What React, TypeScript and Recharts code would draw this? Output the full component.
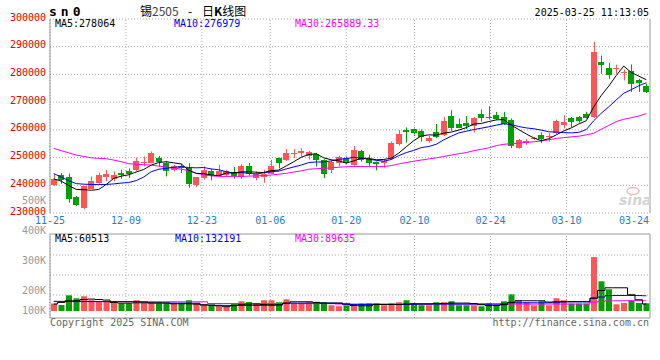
import React from "react";
import {
  ComposedChart,
  Bar,
  Line,
  XAxis,
  YAxis,
  CartesianGrid,
  ReferenceLine,
  Cell,
} from "recharts";

// trading days shown (11-25 .. 03-25)
const DATES = [
  "11-25", "11-26", "11-27", "11-28", "11-29",
  "12-02", "12-03", "12-04", "12-05", "12-06",
  "12-09", "12-10", "12-11", "12-12", "12-13",
  "12-16", "12-17", "12-18", "12-19", "12-20",
  "12-23", "12-24", "12-25", "12-26", "12-27",
  "12-30", "12-31", "01-02", "01-03",
  "01-06", "01-07", "01-08", "01-09", "01-10",
  "01-13", "01-14", "01-15", "01-16", "01-17",
  "01-20", "01-21", "01-22", "01-23", "01-24",
  "01-27", "02-05", "02-06", "02-07",
  "02-10", "02-11", "02-12", "02-13", "02-14",
  "02-17", "02-18", "02-19", "02-20", "02-21",
  "02-24", "02-25", "02-26", "02-27", "02-28",
  "03-03", "03-04", "03-05", "03-06", "03-07",
  "03-10", "03-11", "03-12", "03-13", "03-14",
  "03-17", "03-18", "03-19", "03-20", "03-21",
  "03-24", "03-25",
];

const OPEN = [
  240000, 243600, 242900, 235700, 231700, 238800, 240900, 242900, 242400, 244400,
  245000, 245400, 248000, 248200, 250000, 248200, 245400, 246800, 246400, 240000,
  242600, 245300, 243500, 243800, 244800, 243000, 247100, 242600, 243000, 244200,
  249800, 249000, 251500, 251600, 250700, 251200, 249200, 245400, 248000, 249800,
  247200, 252200, 249500, 248400, 248000, 249500, 254800, 259900, 260300, 259600,
  256000, 259300, 258200, 265000, 262100, 262600, 261400, 265700, 264700, 265300,
  264500, 263500, 253400, 255200, 256600, 258200, 257700, 258800, 261700, 264100,
  264500, 265700, 264500, 284400, 282200, 281800, 280800, 281400, 278100, 275800,
];
const HIGH = [
  244200, 244400, 244200, 236100, 239800, 243200, 244600, 245600, 245000, 245600,
  246100, 250000, 250400, 252200, 250600, 248800, 247400, 247700, 248000, 243000,
  246800, 245900, 247400, 245600, 246600, 247700, 248000, 245000, 245600, 249200,
  250000, 253100, 253100, 253400, 252400, 251700, 249400, 249000, 250700, 250400,
  254200, 252800, 251000, 248600, 249200, 255800, 259900, 260900, 260900, 260200,
  257800, 262100, 264700, 267100, 264100, 265000, 264600, 267400, 268500, 266500,
  266500, 264100, 256700, 256700, 257500, 259100, 258800, 263700, 265300, 264700,
  265000, 266500, 291800, 286800, 284200, 283500, 281800, 283600, 278400, 276700,
];
const LOW = [
  239800, 240500, 233700, 232500, 231300, 238700, 240600, 241400, 241400, 242400,
  242600, 245000, 246800, 248000, 246800, 243200, 245000, 244400, 239100, 239400,
  242000, 241800, 243200, 243200, 242400, 242400, 243500, 241800, 240900, 244000,
  246100, 248800, 249800, 250400, 249300, 246800, 242600, 244400, 246800, 247700,
  247100, 248500, 246600, 245400, 246400, 249300, 254300, 255400, 257800, 255800,
  255400, 257000, 257800, 259700, 260700, 260300, 259000, 262900, 263800, 263500,
  261700, 253400, 253200, 254600, 256400, 255200, 255800, 258600, 260500, 260900,
  262600, 264100, 264300, 280200, 278400, 280200, 277800, 273700, 273700, 273300,
];
const CLOSE = [
  242400, 242000, 235200, 232800, 239600, 241400, 243600, 244100, 243600, 243600,
  244200, 248600, 248400, 251600, 248400, 245300, 246800, 246200, 240500, 242900,
  245600, 243600, 245000, 245000, 243200, 247100, 244200, 244200, 244200, 246800,
  248000, 251600, 251800, 252200, 252000, 249200, 244200, 248400, 250200, 248200,
  252800, 249200, 248000, 247700, 248800, 255200, 258400, 259300, 258800, 257500,
  257200, 257500, 263200, 260800, 260800, 261500, 264100, 264100, 264300, 263900,
  262100, 254000, 256400, 256000, 257200, 256700, 257900, 263300, 262900, 262900,
  263300, 264300, 288000, 283500, 279900, 282400, 281000, 276700, 277000, 273700,
];

const MA5 = [
  242300, 241500, 239900, 238500, 238400, 238200, 238500, 240300, 242500, 243300,
  243800, 244800, 245700, 247300, 248200, 248500, 248100, 247700, 245400, 244300,
  244200, 243700, 243500, 244400, 244500, 244800, 244900, 244700, 244600, 245300,
  245500, 247000, 248500, 250100, 251100, 251400, 249900, 249200, 248800, 248000,
  248800, 249800, 249700, 249200, 249300, 249800, 251600, 253900, 256100, 257800,
  258200, 258100, 258800, 259200, 259900, 260800, 262100, 262300, 263000, 263600,
  263700, 261700, 260100, 258500, 257100, 256100, 256800, 258200, 259600, 260700,
  262100, 263300, 268300, 272400, 275800, 279600, 283000, 280700, 279400, 278100,
];
const MA10 = [
  244200, 243000, 241600, 240600, 240400, 240300, 240300, 240300, 240500, 240800,
  241000, 241700, 243000, 244900, 245800, 246100, 246500, 246700, 246400, 246300,
  246400, 245900, 245600, 244900, 244400, 244600, 244300, 244100, 244500, 244900,
  245100, 245900, 246600, 247300, 248200, 248400, 248400, 248800, 249400, 249600,
  250100, 249800, 249400, 249000, 248700, 249300, 250700, 251800, 252600, 253600,
  254000, 254800, 256400, 257700, 258900, 259500, 260100, 260600, 261100, 261700,
  262200, 261900, 261200, 260700, 260400, 259900, 259300, 259200, 259000, 258900,
  259100, 260100, 263300, 266000, 268300, 270800, 273200, 274500, 275900, 277000,
];
const MA30 = [
  253300, 252500, 251700, 250900, 250400, 249900, 249700, 249600, 249100, 248500,
  247800, 247600, 247400, 247300, 246900, 246600, 246200, 245800, 245300, 244300,
  243800, 243400, 243200, 243200, 243200, 243200, 243300, 243400, 243500, 243700,
  244000, 244300, 244800, 245200, 245800, 246000, 246100, 246300, 246500, 246700,
  246800, 246800, 246800, 246800, 246800, 247100, 247700, 248200, 248700, 249100,
  249500, 249900, 250400, 250900, 251400, 251800, 252500, 253000, 253500, 254300,
  254800, 255000, 255200, 255500, 255700, 256000, 256400, 256900, 257200, 257500,
  257700, 258200, 258800, 260200, 261600, 263000, 263800, 264400, 265000, 265900,
];

const VOLUME = [
  64800, 52700, 136400, 110500, 127800, 93300, 84600, 82000, 82000, 67400,
  67400, 93300, 70000, 70000, 67400, 67400, 64800, 64800, 93300, 70000,
  52700, 50100, 41500, 35400, 64800, 84600, 78600, 70000, 93300, 93300,
  76000, 101900, 70000, 70000, 76000, 76000, 76000, 50000, 41500, 50100,
  50100, 64800, 67400, 67400, 50100, 67400, 76000, 93300, 67400, 50100,
  50100, 76000, 76000, 84600, 50100, 50100, 50100, 41500, 67400, 50100,
  84600, 145100, 93300, 76000, 50100, 84600, 50100, 110500, 93300, 64800,
  64800, 64800, 467200, 257400, 188300, 58700, 70000, 87200, 70000, 67400,
];
const VOL_MA5 = [
  60500, 75000, 89000, 89000, 100000, 103600, 100000, 95000, 75000, 69100,
  69100, 71700, 71700, 71700, 71700, 70000, 63000, 63000, 63000, 60000,
  54400, 52000, 45000, 38000, 45800, 55000, 60500, 60500, 57000, 54400,
  54400, 70000, 80300, 80300, 80300, 75000, 69100, 69100, 69100, 62000,
  48000, 45800, 45800, 57000, 57000, 57000, 57000, 60000, 62000, 62000,
  62000, 64000, 66000, 69100, 69100, 69100, 65000, 55000, 48400, 48400,
  55000, 75000, 89000, 89000, 89000, 89000, 77700, 80300, 80300, 80300,
  80300, 80300, 112300, 177900, 201200, 201200, 201200, 140800, 97600, 60500,
];
const VOL_MA10 = [
  84000, 83500, 83000, 83000, 82800, 82800, 82500, 82500, 82800, 83000,
  83000, 82800, 80000, 69500, 69000, 69000, 69000, 68800, 68800, 68000,
  52000, 50500, 50000, 49000, 48500, 48500, 48500, 49000, 49000, 49500,
  52000, 66000, 69000, 69000, 69000, 69000, 69000, 69000, 68000, 58000,
  57000, 57000, 57000, 57000, 57000, 57000, 57000, 58000, 60000, 60500,
  60500, 61000, 60500, 60500, 60000, 60500, 60500, 60500, 60000, 60500,
  62000, 71000, 71700, 71700, 71700, 71700, 71700, 72000, 80000, 80300,
  80300, 80300, 110000, 121000, 134000, 134700, 134700, 134500, 134000, 132200,
];
const VOL_MA30 = [
  81500, 81500, 81300, 81300, 81200, 81200, 81000, 81000, 81000, 81000,
  80800, 80800, 80800, 80500, 80500, 80500, 80300, 80300, 80300, 80300,
  80000, 65500, 65300, 65000, 65000, 65000, 64800, 64800, 64800, 64800,
  64500, 64500, 64500, 64500, 64300, 64300, 64300, 64000, 60500, 60500,
  60500, 60500, 60500, 60500, 60500, 60500, 60500, 60500, 60500, 60500,
  60300, 60300, 60300, 60300, 60300, 60300, 60300, 60300, 60300, 60300,
  60500, 60500, 60500, 60500, 60500, 60500, 60500, 60500, 60500, 60500,
  60500, 60500, 76000, 84000, 88000, 89000, 89500, 90000, 89800, 89600,
];

const PRICE_TICKS = [230000, 240000, 250000, 260000, 270000, 280000, 290000, 300000];
const DATE_TICKS = ["11-25", "12-09", "12-23", "01-06", "01-20", "02-10", "02-24", "03-10"];
const LAST_DATE_TICK = "03-24";

// volume panel: axis labels sit where Sina prints them
const VOL_DOMAIN = [-60000, 995000];
const VOL_TICKS = [6600, 176100, 435500, 695000, 960400];
const VOL_TICK_LABELS = ["100K", "200K", "300K", "400K", "500K"];
const VOL_GRID = [138900, 311900, 484800];
const VOL_FRAME_TOP = 666400;

const PRICE_LEGEND = [
  { text: "MA5:278064", color: "#000000", x: 55 },
  { text: "MA10:276979", color: "#0000ee", x: 174 },
  { text: "MA30:265889.33", color: "#ff00ff", x: 295 },
];
const VOL_LEGEND = [
  { text: "MA5:60513", color: "#000000", x: 55 },
  { text: "MA10:132191", color: "#0000ee", x: 175 },
  { text: "MA30:89635", color: "#ff00ff", x: 295 },
];

const MONO = '"DejaVu Sans Mono", "Liberation Mono", monospace';
const CJK = '"Noto Sans CJK SC", "Noto Sans", sans-serif';
const RED = "#ff5555";
const GREEN = "#00a000";
const GRID = "#aaaaaa";
const FRAME = "#999999";
const PLOT_RIGHT = 650;

const N = DATES.length;
// Sina spaces its grid with (n - 1) steps while candles use n slots
const gridX = (i: number) => (i * N) / (N - 1);

const rows = DATES.map((date, i) => ({
  date,
  x: i + 0.5,
  open: OPEN[i],
  high: HIGH[i],
  low: LOW[i],
  close: CLOSE[i],
  range: [LOW[i], HIGH[i]],
  ma5: MA5[i],
  ma10: MA10[i],
  ma30: MA30[i],
  vol: VOLUME[i],
  vma5: VOL_MA5[i],
  vma10: VOL_MA10[i],
  vma30: VOL_MA30[i],
}));

const allDateTicks = [...DATE_TICKS, LAST_DATE_TICK];
const xTickValues = allDateTicks.map((d) => gridX(DATES.indexOf(d)));
const xTickText = new Map(xTickValues.map((v, k) => [v, allDateTicks[k]]));
const gridLineValues = DATE_TICKS.map((d) => gridX(DATES.indexOf(d)));
const volLabel = new Map(VOL_TICKS.map((v, k) => [v, VOL_TICK_LABELS[k]]));

const Candle = (props: any) => {
  const { x, y, width, height, payload } = props;
  const { open, close, high, low } = payload;
  const color = close >= open ? RED : GREEN;
  const span = high - low;
  const py = (v: number) => (span === 0 ? y : y + ((high - v) / span) * height);
  const left = Math.floor(x);
  const cx = left + Math.floor(width / 2) + 0.5;
  const top = Math.round(py(Math.max(open, close)));
  const bottom = Math.round(py(Math.min(open, close)));
  return (
    <g>
      <line x1={cx} x2={cx} y1={y} y2={y + height} stroke={color} strokeWidth={1} />
      <rect x={left} y={top} width={width} height={Math.max(1, bottom - top)} fill={color} />
    </g>
  );
};

const PriceTick = ({ x, y, payload }: any) => (
  <text x={x} y={y - 2} dy="0.355em" textAnchor="end" fill="#dd0000" fontSize={10} fontFamily={MONO}>
    {payload.value}
  </text>
);

const DateTick = ({ x, y, payload }: any) => {
  const clamp = x + 15 > PLOT_RIGHT;
  return (
    <text
      x={clamp ? PLOT_RIGHT - 1 : x}
      y={y}
      dy="0.71em"
      textAnchor={clamp ? "end" : "middle"}
      fill="#1a7fd6"
      fontSize={10}
      fontFamily={MONO}
    >
      {xTickText.get(payload.value)}
    </text>
  );
};

const VolTick = ({ x, y, payload }: any) => (
  <text x={x} y={y} dy="0.355em" textAnchor="end" fill="#999999" fontSize={10} fontFamily={MONO}>
    {volLabel.get(payload.value)}
  </text>
);

function PriceChart() {
  return (
    <ComposedChart width={660} height={232} data={rows} margin={{ top: 19, right: 10, bottom: 4, left: 0 }}>
      <CartesianGrid vertical={false} stroke={GRID} strokeDasharray="1 2" />
      <XAxis
        type="number"
        dataKey="x"
        domain={[0, N]}
        ticks={xTickValues}
        interval={0}
        height={15}
        tickSize={0}
        tickMargin={4}
        tickLine={false}
        axisLine={false}
        tick={DateTick}
        allowDataOverflow
      />
      <YAxis
        type="number"
        domain={[230000, 300000]}
        ticks={PRICE_TICKS}
        interval={0}
        width={50}
        tickSize={0}
        tickMargin={4}
        tickLine={false}
        axisLine={{ stroke: FRAME }}
        tick={PriceTick}
        allowDataOverflow
      />
      {gridLineValues.map((v) => (
        <ReferenceLine key={v} x={v} stroke={GRID} strokeDasharray="1 2" />
      ))}
      <ReferenceLine x={N} stroke={FRAME} />
      <Bar dataKey="range" barSize={6} shape={Candle} isAnimationActive={false} />
      <Line type="linear" dataKey="ma30" stroke="#ff00ff" strokeWidth={1} dot={false} isAnimationActive={false} />
      <Line type="linear" dataKey="ma10" stroke="#0000ff" strokeWidth={1} dot={false} isAnimationActive={false} />
      <Line type="linear" dataKey="ma5" stroke="#000000" strokeWidth={1} dot={false} isAnimationActive={false} />
    </ComposedChart>
  );
}

function VolumeChart() {
  const bottom = VOL_DOMAIN[0];
  return (
    <ComposedChart width={660} height={137} data={rows} margin={{ top: 10, right: 10, bottom: 5, left: 0 }}>
      <XAxis type="number" dataKey="x" domain={[0, N]} hide allowDataOverflow />
      <YAxis
        type="number"
        domain={VOL_DOMAIN}
        ticks={VOL_TICKS}
        interval={0}
        width={50}
        tickSize={0}
        tickMargin={4}
        tickLine={false}
        axisLine={false}
        tick={VolTick}
        allowDataOverflow
      />
      {VOL_GRID.map((v) => (
        <ReferenceLine key={v} y={v} stroke={GRID} strokeDasharray="1 2" />
      ))}
      {gridLineValues.map((v) => (
        <ReferenceLine
          key={v}
          segment={[{ x: v, y: bottom }, { x: v, y: VOL_FRAME_TOP }]}
          stroke={GRID}
          strokeDasharray="1 2"
        />
      ))}
      <Bar dataKey="vol" barSize={6} isAnimationActive={false}>
        {rows.map((r, i) => (
          <Cell key={i} fill={r.close >= r.open ? RED : GREEN} />
        ))}
      </Bar>
      <Line type="step" dataKey="vma30" stroke="#ff00ff" strokeWidth={1} dot={false} isAnimationActive={false} />
      <Line type="step" dataKey="vma10" stroke="#0000ff" strokeWidth={1} dot={false} isAnimationActive={false} />
      <Line type="step" dataKey="vma5" stroke="#000000" strokeWidth={1} dot={false} isAnimationActive={false} />
      <ReferenceLine y={VOL_FRAME_TOP} stroke={FRAME} />
      <ReferenceLine y={bottom} stroke={FRAME} />
      <ReferenceLine segment={[{ x: 0, y: bottom }, { x: 0, y: VOL_FRAME_TOP }]} stroke={FRAME} />
      <ReferenceLine segment={[{ x: N, y: bottom }, { x: N, y: VOL_FRAME_TOP }]} stroke={FRAME} />
    </ComposedChart>
  );
}

export default function App() {
  return (
    <div style={{ position: "absolute", left: 0, top: 0, width: 660, height: 360, background: "#fff" }}>
      <div style={{ position: "absolute", left: 0, top: 0 }}>
        <PriceChart />
      </div>
      <div style={{ position: "absolute", left: 0, top: 186 }}>
        <VolumeChart />
      </div>
      <svg
        width={660}
        height={360}
        style={{ position: "absolute", left: 0, top: 0, pointerEvents: "none" }}
      >
        <text x={49} y={15.5} fontFamily={MONO} fontSize={13} fontWeight="bold" letterSpacing={4} fill="#000">
          sn0
        </text>
        <text x={140} y={15.5} fontFamily={CJK} fontSize={12} fill="#000">
          锡<tspan fill="#444">2505</tspan>
        </text>
        <text x={188} y={15.5} fontFamily={CJK} fontSize={12} fill="#000">
          -
        </text>
        <text x={202} y={15.5} fontFamily={CJK} fontSize={12} fill="#000">
          日<tspan fontWeight="bold">K</tspan>线图
        </text>
        <text x={649} y={15.5} textAnchor="end" fontFamily={MONO} fontSize={10} fill="#000">
          2025-03-25 11:13:05
        </text>
        {PRICE_LEGEND.map((l) => (
          <text key={l.text} x={l.x} y={27} fontFamily={MONO} fontSize={10} fill={l.color}>
            {l.text}
          </text>
        ))}
        {VOL_LEGEND.map((l) => (
          <text key={l.text} x={l.x} y={242} fontFamily={MONO} fontSize={10} fill={l.color}>
            {l.text}
          </text>
        ))}
        <ellipse cx={633} cy={191} rx={6} ry={3.5} fill="none" stroke="#f4b8b8" strokeWidth={1.5} />
        <text x={619} y={205} fontFamily='"DejaVu Sans", sans-serif' fontSize={14} fontWeight="bold" fontStyle="italic" fill="#d4d4d4">
          sina
        </text>
        <text x={50} y={326} fontFamily={MONO} fontSize={10} fill="#666">
          Copyright 2025 SINA.COM
        </text>
        <text x={649} y={326} textAnchor="end" fontFamily={MONO} fontSize={10} fill="#666">
          http://finance.sina.com.cn
        </text>
      </svg>
    </div>
  );
}
